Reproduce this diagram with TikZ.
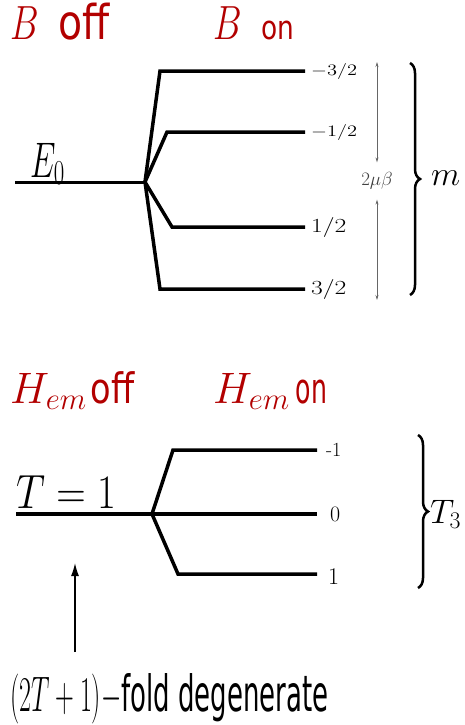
\RequirePackage{fix-cm}
\documentclass[tikz,border=0pt]{standalone}
\usepackage{fontspec}
\usepackage{amsmath}
\usepackage{xcolor}
\usepackage{tikz}
\usetikzlibrary{arrows.meta,positioning,decorations.pathreplacing}
\newfontfamily\onofffont{DejaVu Sans}
\definecolor{FieldRed}{RGB}{178,0,0}
\newcommand{\fs}[1]{\fontsize{#1}{#1}\selectfont}
\newcommand{\wide}[1]{\scalebox{1.28}[1]{#1}}

\begin{document}
\begin{tikzpicture}[
  x=1pt, y=-1pt,
  lvl/.style={line width=3.5pt},
  headtxt/.style={inner sep=0pt,anchor=base west,text=FieldRed},
  plain/.style={inner sep=0pt,anchor=base west},
  mlab/.style={inner sep=0pt,font=\fs{16}},
  brc/.style={decorate,decoration={brace,amplitude=10pt},line width=2.5pt},
  split/.style={{Stealth[length=5pt,width=3pt]}-{Stealth[length=5pt,width=3pt]},black!60,line width=0.7pt},
]
\useasboundingbox (0,0) rectangle (465,725);

% --- magnetic field
\node[headtxt] (boff) at (10,40) {\fs{48}\scalebox{0.75}[1]{$B$}\hspace{20pt}\scalebox{0.82}[1]{\onofffont off}};
\node[headtxt] (bon) at (213,40) {\fs{48}\scalebox{0.75}[1]{$B$}\hspace{20pt}\fs{33}\scalebox{0.8}[1]{\onofffont on}};
\node[plain,font=\fs{50}] (ezero) at (30,177) {\scalebox{0.65}[1]{$E_0$}};

\coordinate (startA) at (15,182);
\coordinate (fanA)   at (145,182);
\coordinate (cA1) at (160,71);  \coordinate (eA1) at (305,71);
\coordinate (cA2) at (167,132); \coordinate (eA2) at (305,132);
\coordinate (cA3) at (172,227); \coordinate (eA3) at (305,227);
\coordinate (cA4) at (160,289); \coordinate (eA4) at (305,289);

\draw[lvl,line width=3pt] (startA) -- (fanA);
\foreach \c/\e in {cA1/eA1,cA2/eA2,cA3/eA3,cA4/eA4}
  \draw[lvl] (fanA) -- (\c) -- (\e);

\node[mlab,right=6pt of eA1] (mA1) {\wide{$-3/2$}};
\node[mlab,right=6pt of eA2] (mA2) {\wide{$-1/2$}};
\node[mlab,right=6pt of eA3,font=\fs{20}] (mA3) {\wide{$1/2$}};
\node[mlab,right=6pt of eA4,font=\fs{20}] (mA4) {\wide{$3/2$}};

\node[font=\fs{19},text=black!75,inner xsep=0pt,inner ysep=10pt] (spl) at (377,181) {$2\mu\beta$};
\coordinate (spltop) at (377,62);
\coordinate (splbot) at (377,300);
\draw[split] (spltop) -- (spl);
\draw[split] (spl) -- (splbot);

\coordinate (brAtop) at (410,63);
\coordinate (brAbot) at (410,295);
\draw[brc] (brAtop) -- (brAbot);
\node[inner sep=0pt,anchor=west,font=\fs{34}] (mlabel) at (431,178) {$m$};

% --- electromagnetic interaction
\node[headtxt] (hoff) at (10,403) {\fs{44}$H_{em}$\hspace{4pt}\fs{42}\scalebox{0.8}[1]{\onofffont off}};
\node[headtxt] (hon) at (213,403) {\fs{44}$H_{em}$\hspace{6pt}\fs{42}\scalebox{0.6}[1]{\onofffont on}};
\node[plain,font=\fs{48}] (tone) at (16,508) {\scalebox{0.85}[1]{$T=1$}};

\coordinate (startB) at (16,514);
\coordinate (fanB)   at (152,514);
\coordinate (eB0) at (317,514);
\coordinate (cB1) at (173,450); \coordinate (eB1) at (317,450);
\coordinate (cB2) at (178,574); \coordinate (eB2) at (317,574);

\draw[lvl] (startB) -- (eB0);
\draw[lvl] (fanB) -- (cB1) -- (eB1);
\draw[lvl] (fanB) -- (cB2) -- (eB2);

\node[mlab,right=9pt of eB1,font=\fs{20}] (tB1) {-1};
\node[mlab,right=13pt of eB0,font=\fs{22}] (tB0) {0};
\node[mlab,right=11pt of eB2,font=\fs{24},yshift=-3pt] (tB2) {1};

\coordinate (brBtop) at (418,435);
\coordinate (brBbot) at (418,588);
\draw[brc] (brBtop) -- (brBbot);
\node[inner sep=0pt,anchor=west,font=\fs{34}] (tthree) at (430,514) {$T_3$};

\coordinate (degtail) at (75,652);
\coordinate (deghead) at (75,563);
\draw[-{Latex[length=13pt,width=8pt]},line width=1.3pt] (degtail) -- (deghead);
\node[plain,font=\fs{50}] (degen) at (10,711) {\scalebox{0.52}[1]{$(2T+1)-$\onofffont fold degenerate}};

\end{tikzpicture}
\end{document}
